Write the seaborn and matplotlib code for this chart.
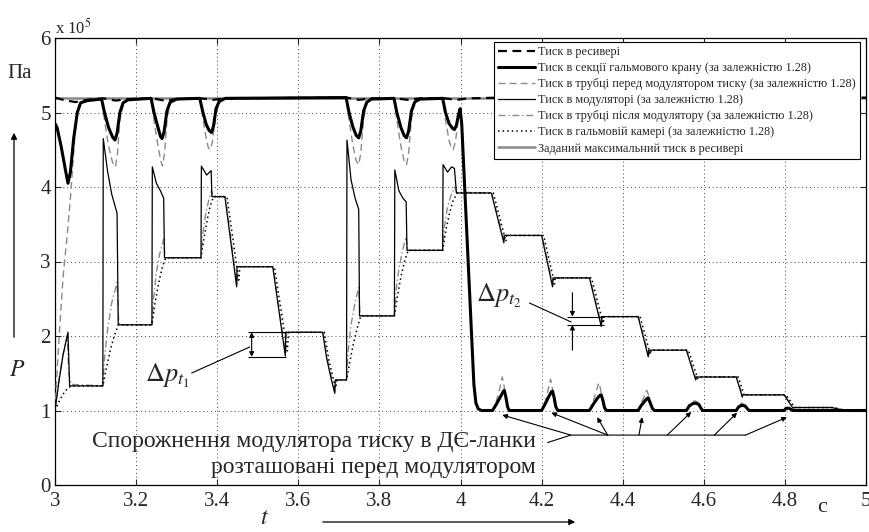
import numpy as np
import pandas as pd
import matplotlib
matplotlib.use("Agg")
import matplotlib.pyplot as plt
import seaborn as sns

# ---- data (time in s, pressure in 1e5 Pa) ----
t_recv = [3.0, 3.02, 3.05, 3.08, 3.12, 3.15, 3.18, 3.24, 3.27, 3.30, 3.36, 3.39, 3.42,
          3.72, 3.75, 3.78, 3.84, 3.87, 3.90, 3.96, 3.99, 4.02, 4.10, 5.0]
p_recv = [5.2, 5.17, 5.14, 5.17, 5.19, 5.16, 5.18, 5.19, 5.16, 5.18, 5.19, 5.17, 5.19,
          5.2, 5.17, 5.19, 5.19, 5.17, 5.19, 5.19, 5.17, 5.19, 5.2, 5.2]

t_valve = [3.0, 3.005, 3.015, 3.025, 3.032, 3.038, 3.046, 3.055, 3.063, 3.08,
           3.115, 3.122, 3.132, 3.142, 3.148, 3.153, 3.160, 3.168, 3.18,
           3.237, 3.244, 3.254, 3.260, 3.264, 3.269, 3.276, 3.284, 3.30,
           3.357, 3.364, 3.373, 3.380, 3.386, 3.391, 3.397, 3.405, 3.42, 3.70,
           3.718, 3.725, 3.735, 3.743, 3.749, 3.754, 3.761, 3.769, 3.78,
           3.836, 3.843, 3.853, 3.861, 3.867, 3.872, 3.879, 3.887, 3.90,
           3.956, 3.963, 3.972, 3.980, 3.985, 3.990, 3.995, 3.999,
           4.003, 4.033, 4.038, 4.044, 4.052,
           4.079, 4.088, 4.098, 4.105, 4.108, 4.112, 4.116, 4.120,
           4.200, 4.209, 4.218, 4.224, 4.227, 4.231, 4.235, 4.240,
           4.318, 4.327, 4.337, 4.343, 4.347, 4.351, 4.355, 4.360,
           4.438, 4.446, 4.455, 4.460, 4.463, 4.468, 4.473, 4.478,
           4.557, 4.564, 4.572, 4.580, 4.588, 4.593, 4.597,
           4.680, 4.686, 4.694, 4.702, 4.708, 4.712,
           4.798, 4.803, 4.810, 4.816, 4.820, 5.0]
p_valve = [4.85, 4.80, 4.55, 4.25, 4.05, 4.2, 4.65, 5.0, 5.13, 5.16,
           5.18, 5.0, 4.8, 4.67, 4.63, 4.72, 5.0, 5.13, 5.17,
           5.19, 5.0, 4.8, 4.68, 4.65, 4.74, 5.02, 5.14, 5.18,
           5.19, 5.02, 4.84, 4.76, 4.73, 4.82, 5.05, 5.15, 5.19, 5.2,
           5.2, 5.0, 4.8, 4.69, 4.66, 4.75, 5.02, 5.14, 5.18,
           5.19, 5.0, 4.8, 4.69, 4.66, 4.75, 5.02, 5.14, 5.18,
           5.19, 5.0, 4.85, 4.79, 4.77, 4.83, 4.97, 5.05,
           4.85, 1.35, 1.1, 1.02, 1.0,
           1.0, 1.08, 1.18, 1.25, 1.27, 1.18, 1.05, 1.0,
           1.0, 1.09, 1.19, 1.25, 1.26, 1.17, 1.05, 1.0,
           1.0, 1.08, 1.16, 1.2, 1.21, 1.14, 1.04, 1.0,
           1.0, 1.07, 1.13, 1.16, 1.17, 1.1, 1.03, 1.0,
           1.0, 1.06, 1.09, 1.1, 1.08, 1.03, 1.0,
           1.0, 1.05, 1.07, 1.06, 1.02, 1.0,
           1.0, 1.03, 1.03, 1.01, 1.0, 1.0]

t_tube_in = [3.0, 3.006, 3.012, 3.020, 3.030, 3.038, 3.044, 3.050, 3.056, 3.064, 3.08,
             3.115, 3.122, 3.132, 3.142, 3.149, 3.154, 3.160, 3.168, 3.18,
             3.237, 3.244, 3.254, 3.261, 3.265, 3.270, 3.277, 3.285, 3.30,
             3.357, 3.364, 3.372, 3.378, 3.382, 3.388, 3.396, 3.405, 3.42, 3.70,
             3.718, 3.725, 3.735, 3.743, 3.749, 3.754, 3.761, 3.769, 3.78,
             3.836, 3.843, 3.853, 3.861, 3.867, 3.872, 3.879, 3.887, 3.90,
             3.956, 3.963, 3.972, 3.978, 3.982, 3.988, 3.994, 3.999,
             4.003, 4.033, 4.038, 4.044, 4.052,
             4.079, 4.088, 4.097, 4.103, 4.107, 4.111, 4.116, 4.120,
             4.200, 4.209, 4.217, 4.222, 4.226, 4.230, 4.235, 4.240,
             4.318, 4.327, 4.336, 4.341, 4.345, 4.350, 4.355, 4.360,
             4.438, 4.446, 4.454, 4.459, 4.463, 4.468, 4.473, 4.478,
             4.557, 4.564, 4.572, 4.579, 4.587, 4.593, 4.597,
             4.680, 4.686, 4.693, 4.700, 4.707, 4.712,
             4.798, 4.803, 4.809, 4.815, 4.820, 5.0]
p_tube_in = [1.0, 1.6, 2.15, 2.8, 3.35, 3.85, 4.3, 4.75, 5.0, 5.12, 5.16,
             5.18, 4.9, 4.55, 4.33, 4.27, 4.45, 4.9, 5.1, 5.17,
             5.19, 4.9, 4.55, 4.35, 4.28, 4.45, 4.95, 5.12, 5.18,
             5.19, 4.95, 4.68, 4.53, 4.5, 4.6, 4.95, 5.13, 5.19, 5.2,
             5.2, 4.9, 4.55, 4.35, 4.3, 4.45, 4.92, 5.12, 5.18,
             5.19, 4.9, 4.55, 4.35, 4.3, 4.45, 4.92, 5.12, 5.18,
             5.19, 4.9, 4.62, 4.52, 4.5, 4.62, 4.9, 5.05,
             4.85, 1.35, 1.1, 1.02, 1.0,
             1.0, 1.12, 1.3, 1.45, 1.35, 1.15, 1.03, 1.0,
             1.0, 1.12, 1.3, 1.42, 1.33, 1.15, 1.03, 1.0,
             1.0, 1.12, 1.28, 1.37, 1.3, 1.12, 1.02, 1.0,
             1.0, 1.1, 1.2, 1.27, 1.22, 1.1, 1.02, 1.0,
             1.0, 1.08, 1.12, 1.13, 1.1, 1.03, 1.0,
             1.0, 1.06, 1.1, 1.08, 1.03, 1.0,
             1.0, 1.03, 1.04, 1.02, 1.0, 1.0]

t_mod = [3.0, 3.010, 3.020, 3.032, 3.036, 3.118, 3.119, 3.130, 3.140, 3.153, 3.156,
         3.239, 3.240, 3.250, 3.260, 3.268, 3.270, 3.360, 3.361, 3.374, 3.385, 3.387,
         3.419, 3.448, 3.449, 3.537, 3.568, 3.569, 3.660, 3.670, 3.680, 3.690, 3.691,
         3.719, 3.720, 3.730, 3.740, 3.749, 3.751, 3.837, 3.838, 3.848, 3.858, 3.866, 3.868,
         3.956, 3.957, 3.968, 3.978, 3.985, 3.990, 4.076, 4.107, 4.108, 4.200, 4.227, 4.228,
         4.318, 4.347, 4.348, 4.438, 4.463, 4.464, 4.557, 4.580, 4.581, 4.680, 4.695, 4.696,
         4.798, 4.820, 4.822, 4.916, 4.945, 5.0]
p_mod = [1.0, 1.4, 1.75, 2.05, 1.33, 1.33, 4.65, 4.2, 3.9, 3.65, 2.15,
         2.15, 4.27, 4.05, 3.95, 3.85, 3.05, 3.05, 4.28, 4.16, 4.22, 3.87,
         3.87, 2.66, 2.93, 2.93, 1.73, 2.05, 2.05, 1.7, 1.45, 1.23, 1.41,
         1.41, 4.63, 4.1, 3.85, 3.7, 2.27, 2.27, 4.23, 3.95, 3.85, 3.8, 3.15,
         3.15, 4.3, 4.2, 4.27, 4.25, 3.92, 3.92, 3.25, 3.35, 3.35, 2.66, 2.78,
         2.78, 2.13, 2.26, 2.26, 1.72, 1.81, 1.81, 1.41, 1.45, 1.45, 1.18, 1.21,
         1.21, 1.03, 1.04, 1.04, 1.0, 1.0]

t_tube_out = [3.0, 3.008, 3.018, 3.030, 3.034, 3.040, 3.118,
              3.122, 3.130, 3.140, 3.153, 3.157, 3.160, 3.239,
              3.243, 3.250, 3.258, 3.268, 3.271, 3.274, 3.360,
              3.364, 3.371, 3.379, 3.386, 3.389, 3.420, 3.449, 3.451, 3.538, 3.569, 3.571,
              3.661, 3.672, 3.690, 3.693, 3.719,
              3.723, 3.730, 3.740, 3.749, 3.752, 3.755, 3.837,
              3.841, 3.848, 3.857, 3.866, 3.869, 3.872, 3.956,
              3.960, 3.967, 3.976, 3.986, 3.990, 4.077, 4.108, 4.110, 4.201, 4.228, 4.230,
              4.319, 4.348, 4.350, 4.439, 4.464, 4.466, 4.558, 4.581, 4.583, 4.681, 4.696,
              4.698, 4.799, 4.820, 4.822, 4.918, 4.947, 5.0]
p_tube_out = [1.0, 1.35, 1.7, 2.0, 1.5, 1.35, 1.33,
              1.7, 2.1, 2.45, 2.72, 2.2, 2.15, 2.15,
              2.5, 2.85, 3.1, 3.3, 3.08, 3.05, 3.05,
              3.35, 3.62, 3.82, 3.95, 3.88, 3.87, 2.7, 2.93, 2.93, 1.76, 2.05,
              2.05, 1.68, 1.26, 1.41, 1.41,
              1.8, 2.15, 2.45, 2.65, 2.3, 2.27, 2.27,
              2.6, 2.9, 3.15, 3.33, 3.18, 3.15, 3.15,
              3.45, 3.7, 3.88, 4.0, 3.93, 3.92, 3.27, 3.35, 3.35, 2.68, 2.78,
              2.78, 2.15, 2.26, 2.26, 1.74, 1.81, 1.81, 1.42, 1.45, 1.45, 1.19,
              1.21, 1.21, 1.04, 1.04, 1.04, 1.0, 1.0]

t_chamber = [3.0, 3.010, 3.020, 3.030, 3.040, 3.118, 3.126, 3.136, 3.146, 3.156,
             3.239, 3.247, 3.256, 3.265, 3.273, 3.360, 3.367, 3.375, 3.383, 3.391,
             3.424, 3.453, 3.456, 3.541, 3.573, 3.576, 3.664, 3.676, 3.692, 3.696,
             3.719, 3.727, 3.736, 3.745, 3.754, 3.837, 3.845, 3.854, 3.863, 3.871,
             3.956, 3.964, 3.973, 3.982, 3.992, 4.081, 4.112, 4.114, 4.205, 4.232, 4.234,
             4.323, 4.352, 4.354, 4.443, 4.468, 4.470, 4.562, 4.585, 4.587, 4.685, 4.700,
             4.702, 4.803, 4.824, 4.920, 4.950, 5.0]
p_chamber = [1.0, 1.12, 1.22, 1.29, 1.33, 1.33, 1.55, 1.8, 2.0, 2.15,
             2.15, 2.45, 2.72, 2.93, 3.05, 3.05, 3.3, 3.55, 3.75, 3.87,
             3.87, 2.75, 2.93, 2.93, 1.8, 2.05, 2.05, 1.66, 1.3, 1.41,
             1.41, 1.65, 1.9, 2.1, 2.27, 2.27, 2.55, 2.82, 3.02, 3.15,
             3.15, 3.42, 3.65, 3.82, 3.92, 3.92, 3.27, 3.35, 3.35, 2.7, 2.78,
             2.78, 2.17, 2.26, 2.26, 1.75, 1.81, 1.81, 1.43, 1.45, 1.45, 1.2,
             1.21, 1.21, 1.04, 1.04, 1.0, 1.0]

t_max = [3.0, 5.0]
p_max = [5.2, 5.2]

labels = ["Тиск в ресивері",
          "Тиск в секції гальмового крану (за залежністю 1.28)",
          "Тиск в трубці перед модулятором тиску (за залежністю 1.28)",
          "Тиск в модуляторі (за залежністю 1.28)",
          "Тиск в трубці після модулятору (за залежністю 1.28)",
          "Тиск в гальмовій камері (за залежністю 1.28)",
          "Заданий максимальний тиск в ресивері"]

sns.set_style("ticks")
plt.rcParams['font.family'] = ['Liberation Serif', 'DejaVu Serif']
plt.rcParams['mathtext.fontset'] = 'stix'

W, H = 870, 532
fig = plt.figure(figsize=(8.7, 5.32), dpi=100)
ax = fig.add_axes([55 / W, 1 - 485 / H, (866 - 55) / W, (485 - 38) / H])

gray = '#8a8a8a'
series = [
    (t_recv, p_recv, dict(color='black', lw=1.6, linestyle=(0, (4, 2.5))), 4),
    (t_valve, p_valve, dict(color='black', lw=2.2, linestyle='-'), 5),
    (t_tube_in, p_tube_in, dict(color=gray, lw=1.0, linestyle=(0, (5, 3))), 3),
    (t_mod, p_mod, dict(color='black', lw=0.9, linestyle='-'), 6),
    (t_tube_out, p_tube_out, dict(color=gray, lw=1.0, linestyle=(0, (5, 2, 1, 2))), 3),
    (t_chamber, p_chamber, dict(color='black', lw=1.1, linestyle=(0, (1, 2))), 7),
    (t_max, p_max, dict(color=gray, lw=1.8, linestyle='-'), 2),
]
handles = []
for (tt, pp, kw, z), lab in zip(series, labels):
    df = pd.DataFrame({'t': tt, 'p': pp})
    sns.lineplot(data=df, x='t', y='p', ax=ax, estimator=None, sort=False,
                 legend=False, zorder=z, **kw)
    handles.append(ax.lines[-1])

ax.set_xlim(3, 5)
ax.set_ylim(0, 6)
ax.set_xticks([3, 3.2, 3.4, 3.6, 3.8, 4, 4.2, 4.4, 4.6, 4.8, 5])
ax.set_xticklabels(['3', '3.2', '3.4', '3.6', '3.8', '4', '4.2', '4.4', '4.6', '4.8', '5'])
ax.set_yticks([0, 1, 2, 3, 4, 5, 6])
ax.set_xlabel('')
ax.set_ylabel('')
ax.grid(True, color='#444444', linestyle=(0, (1, 3)), lw=0.7)
ax.tick_params(direction='in', length=4, width=0.8, labelsize=15, top=True, right=True)
ax.tick_params(axis='x', pad=5)
ax.tick_params(axis='y', pad=3)
for s in ax.spines.values():
    s.set_linewidth(0.9)
    s.set_color('black')

leg = ax.legend(handles, labels, loc='upper right', bbox_to_anchor=(0.9926, 0.991),
                fontsize=8.8, frameon=True, fancybox=False, edgecolor='black',
                framealpha=1, handlelength=3.0, handletextpad=0.25, labelspacing=0.33,
                borderpad=0.35, borderaxespad=0)
leg.get_frame().set_linewidth(0.8)
leg.set_zorder(20)

# figure-level labels
fig.text(55 / W, 1 - 28 / H, r'x 10$^5$', fontsize=12, ha='left', va='center')
fig.text(20 / W, 1 - 73 / H, 'Па', fontsize=15, ha='center', va='center')
fig.text(17 / W, 1 - 370 / H, r'$P$', fontsize=17, ha='center', va='center')
fig.text(822 / W, 1 - 507 / H, 'с', fontsize=16, ha='center', va='center')
fig.text(265 / W, 1 - 518 / H, r'$t$', fontsize=17, ha='center', va='center')
fig.add_artist(matplotlib.patches.FancyArrowPatch((320 / W, 1 - 522 / H), (578 / W, 1 - 522 / H),
               transform=fig.transFigure, arrowstyle='-|>', mutation_scale=9, lw=0.9, color='black'))
fig.add_artist(matplotlib.patches.FancyArrowPatch((14 / W, 1 - 340 / H), (14 / W, 1 - 130 / H),
               transform=fig.transFigure, arrowstyle='-|>', mutation_scale=9, lw=0.9, color='black'))

line_kw = dict(arrowstyle='-', lw=0.8, color='black', shrinkA=0, shrinkB=0)
head_kw = dict(arrowstyle='-|>', lw=0.8, color='black', mutation_scale=7, shrinkA=0, shrinkB=0)

# delta p annotations
ax.hlines([2.05, 1.72], 3.475, 3.569, color='black', lw=0.8, zorder=8)
ax.annotate('', xy=(3.485, 2.05), xytext=(3.485, 1.72),
            arrowprops=dict(head_kw, arrowstyle='<|-|>'))
ax.text(3.222, 1.46, r'$\Delta p_{t_1}$', fontsize=19, ha='left', va='center')
ax.annotate('', xy=(3.480, 1.852), xytext=(3.337, 1.503), arrowprops=line_kw)

ax.hlines([2.26, 2.15], 4.263, 4.355, color='black', lw=0.8, zorder=8)
ax.annotate('', xy=(4.276, 2.26), xytext=(4.276, 2.58), arrowprops=head_kw)
ax.annotate('', xy=(4.276, 2.15), xytext=(4.276, 1.81), arrowprops=head_kw)
ax.text(4.039, 2.54, r'$\Delta p_{t_2}$', fontsize=19, ha='left', va='center')
ax.annotate('', xy=(4.273, 2.188), xytext=(4.170, 2.443), arrowprops=line_kw)

# emptying annotation
ax.text(4.185, 0.59, 'Спорожнення модулятора тиску в ДЄ-ланки', fontsize=17,
        ha='right', va='center')
ax.text(4.185, 0.24, 'розташовані перед модулятором', fontsize=17,
        ha='right', va='center')
ax.plot([4.215, 4.272, 4.703], [0.57, 0.67, 0.67], color='black', lw=0.8)
arrow_from = [(4.272, 0.67), (4.363, 0.67), (4.363, 0.67), (4.44, 0.67),
              (4.51, 0.67), (4.626, 0.67), (4.703, 0.67)]
arrow_to = [(4.103, 0.94), (4.224, 0.97), (4.337, 0.91), (4.448, 0.91),
            (4.569, 0.98), (4.682, 0.97), (4.805, 0.91)]
for a, b in zip(arrow_from, arrow_to):
    ax.annotate('', xy=b, xytext=a, arrowprops=head_kw)

fig.savefig('out.png', dpi=100)
